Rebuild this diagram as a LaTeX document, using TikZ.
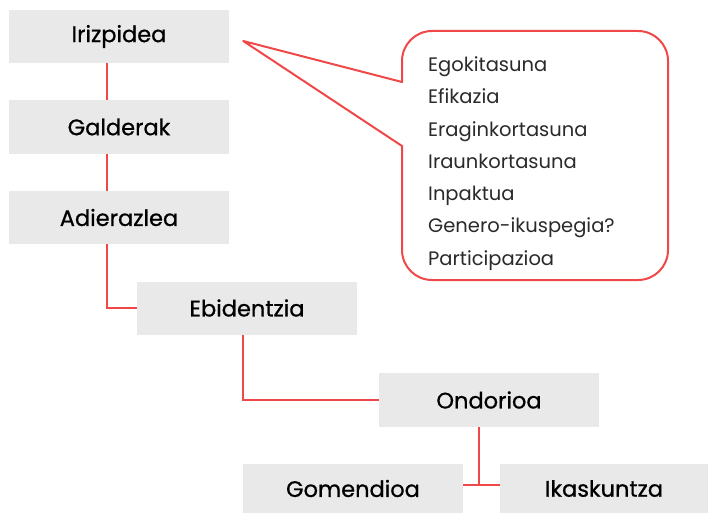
\documentclass[tikz,border=0pt]{standalone}
\usepackage{fontspec}
\setmainfont{Poppins}
\newfontfamily\boxfont{Poppins}[FakeBold=0.7]
\usepackage{xcolor}
\usepackage{tikz}
\definecolor{linkred}{HTML}{F04848}
\definecolor{boxgray}{HTML}{E9E9E9}
\definecolor{textgray}{HTML}{2A2A2A}

\begin{document}
\begin{tikzpicture}[x=1pt,y=-1pt,
  box/.style={rectangle,fill=boxgray,inner sep=0pt,
    minimum width=220pt,minimum height=53pt,
    font=\boxfont\fontsize{22.5}{26}\selectfont},
  link/.style={draw=linkred,line width=2pt},
  callout/.style={draw=linkred,line width=2pt,fill=white,line join=round}]
  \useasboundingbox (0,0) rectangle (708,513);

  \node[box] (irizpidea) at (119,36.5) {Irizpidea};
  \node[box] (galderak) at (119,127) {Galderak};
  \node[box] (adierazlea) at (119,217.5) {Adierazlea};
  \node[box] (ebidentzia) at (247,308) {Ebidentzia};
  \node[box,minimum height=54pt] (ondorioa) at (489,400) {Ondorioa};
  \node[box,minimum height=49pt] (gomendioa) at (353,488.5) {Gomendioa};
  \node[box,minimum width=208pt,minimum height=49pt] (ikaskuntza) at (604,488.5) {Ikaskuntza};

  % speech bubble
  \coordinate (tip) at ([xshift=14pt,yshift=-4.5pt]irizpidea.east);
  \draw[callout] (tip) -- (402,146) [rounded corners=30pt] -- (402,280) -- (668,280)
    -- (668,31) -- (402,31) [sharp corners] -- (402,82) -- cycle;
  \node[anchor=west,inner sep=0pt,align=left,text=textgray,
    font=\fontsize{19.5}{32.3}\selectfont] (criteria) at (428,163.5)
    {Egokitasuna\\Efikazia\\Eraginkortasuna\\Iraunkortasuna\\Inpaktua\\Genero-ikuspegia?\\Participazioa};

  \coordinate (split) at ([yshift=3.5pt]gomendioa.east);
  \draw[link] ([xshift=-12pt]irizpidea.south) -- ([xshift=-12pt]galderak.north);
  \draw[link] ([xshift=-12pt]galderak.south) -- ([xshift=-12pt]adierazlea.north);
  \draw[link] ([xshift=-12pt]adierazlea.south) |- (ebidentzia.west);
  \draw[link] ([xshift=-4pt]ebidentzia.south) |- (ondorioa.west);
  \draw[link] (split) -- ([yshift=3.5pt]ikaskuntza.west);
  \draw[link] ([xshift=-10pt]ondorioa.south) -- ([xshift=-10pt]ondorioa.south |- split);
\end{tikzpicture}
\end{document}
